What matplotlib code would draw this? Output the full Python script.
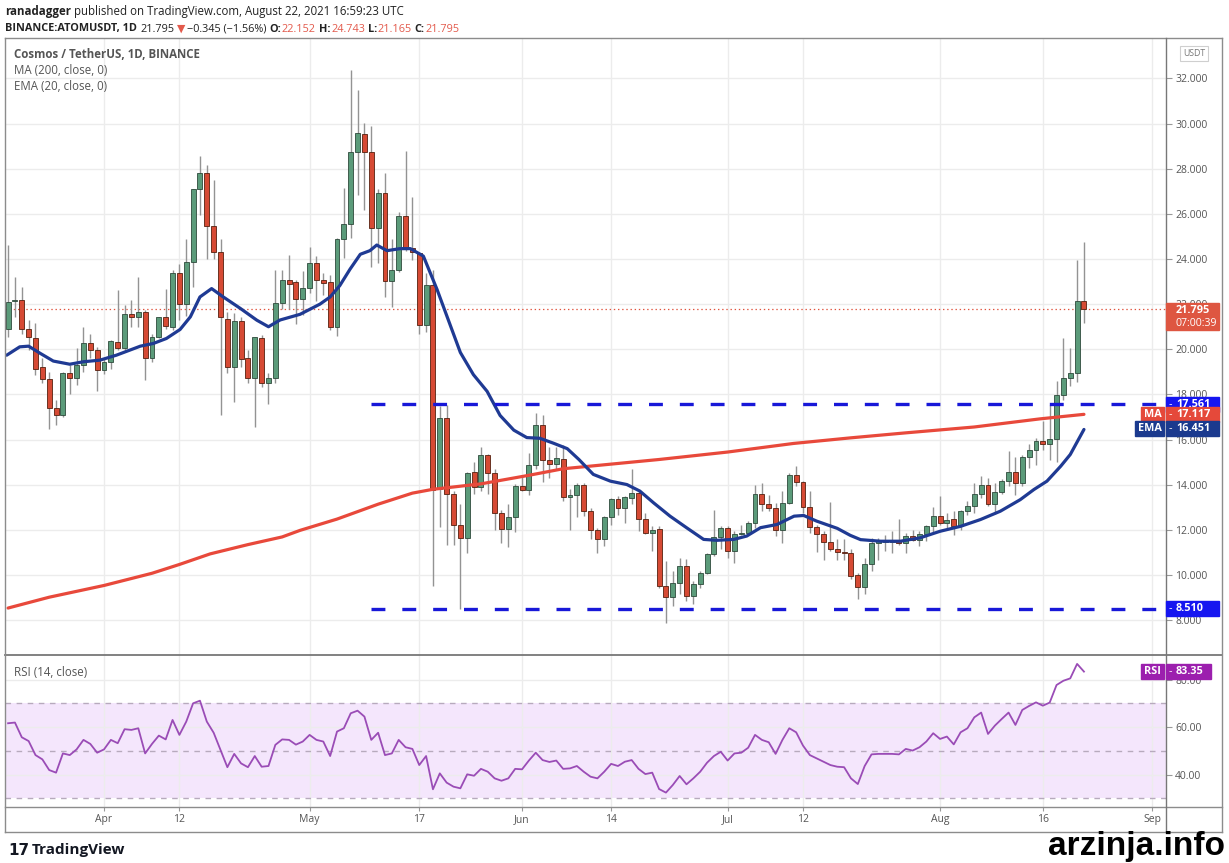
import numpy as np
import matplotlib
matplotlib.use("Agg")
import matplotlib.pyplot as plt
from matplotlib.lines import Line2D
from matplotlib.patches import Rectangle

W, H = 1229, 863
FONT = ["Open Sans", "DejaVu Sans"]
plt.rcParams["font.family"] = FONT
plt.rcParams["lines.scale_dashes"] = False

# day numbers count from Apr 1 2021 (= 0); first candle is Mar 18
first_day = -14

opens = [
    20.92, 22.13, 22.20, 20.92, 20.52, 19.20, 18.70, 17.42, 17.08, 18.93,
    18.71, 19.30, 20.29, 19.96, 19.08, 19.45, 20.33, 20.04, 21.56, 21.44,
    21.66, 19.60, 20.55, 21.41, 21.00, 23.36, 21.99, 23.85, 27.09, 27.83,
    25.45, 24.32, 21.36, 19.23, 21.26, 19.60, 18.75, 20.52, 18.49, 18.71,
    22.07, 23.09, 22.99, 22.25, 22.73, 23.83, 23.09, 23.00, 20.98, 24.87,
    25.55, 28.72, 29.54, 28.72, 25.36, 26.92, 23.01, 23.50, 25.90, 24.50,
    24.26, 21.06, 22.86, 13.80, 16.94, 13.60, 12.24, 11.63, 14.56, 13.90,
    15.30, 14.53, 12.73, 12.02, 12.56, 13.96, 13.75, 14.86, 16.66, 15.11,
    14.90, 15.15, 13.47, 13.55, 14.01, 12.86, 11.99, 11.62, 12.58, 13.39,
    12.98, 13.42, 13.65, 12.50, 11.87, 12.02, 9.51, 9.04, 9.66, 10.40,
    9.07, 9.59, 10.10, 10.92, 11.70, 12.07, 11.06, 11.83, 11.86, 12.32,
    13.57, 13.17, 12.98, 11.99, 13.20, 14.43, 14.12, 13.03, 12.14, 11.80,
    11.48, 11.17, 11.03, 10.99, 10.02, 9.46, 10.51, 11.42, 11.45, 11.48,
    11.50, 11.40, 11.75, 11.57, 11.84, 12.19, 12.63, 12.31, 12.49, 12.16,
    12.83, 13.08, 13.61, 14.01, 13.17, 13.67, 14.16, 14.55, 14.08, 15.23,
    15.56, 15.93, 15.82, 16.03, 17.99, 18.73, 18.95, 22.152,
]
highs = [
    24.61, 23.21, 22.77, 21.29, 21.17, 19.60, 19.00, 17.75, 19.00, 19.30,
    20.04, 21.00, 20.70, 20.10, 19.60, 20.40, 22.62, 21.96, 22.20, 23.20,
    21.76, 20.70, 21.44, 22.65, 23.50, 23.80, 24.90, 27.12, 28.55, 28.15,
    27.50, 24.90, 21.66, 21.59, 21.44, 19.96, 20.55, 20.63, 18.93, 23.50,
    23.50, 24.17, 23.06, 23.47, 24.54, 24.13, 23.39, 23.30, 24.95, 27.16,
    32.36, 31.48, 30.03, 29.90, 27.08, 27.82, 24.87, 26.10, 28.80, 26.75,
    24.29, 23.40, 23.50, 17.48, 17.54, 13.71, 13.14, 14.56, 15.00, 15.66,
    15.35, 14.70, 12.90, 13.14, 14.04, 14.45, 15.39, 17.20, 17.10, 15.68,
    15.68, 15.76, 13.80, 14.09, 14.09, 12.98, 12.10, 12.61, 13.42, 13.50,
    13.50, 14.70, 13.72, 12.76, 12.17, 12.17, 10.62, 10.18, 10.77, 10.72,
    9.73, 10.18, 10.99, 12.90, 12.17, 12.17, 11.95, 12.24, 12.39, 14.01,
    14.06, 13.53, 13.20, 13.72, 14.53, 14.83, 14.16, 13.72, 12.24, 11.95,
    13.23, 11.58, 11.58, 11.14, 10.10, 10.76, 11.65, 11.65, 11.79, 11.94,
    12.49, 11.87, 12.01, 11.94, 12.24, 13.02, 13.49, 12.75, 12.83, 12.90,
    13.27, 14.08, 14.38, 14.30, 14.08, 14.26, 15.48, 15.23, 15.34, 15.82,
    16.07, 16.81, 17.55, 18.58, 20.50, 20.06, 23.97, 24.743,
]
lows = [
    20.55, 21.44, 20.70, 19.96, 18.86, 18.50, 16.45, 16.64, 17.00, 18.00,
    18.41, 19.00, 19.60, 18.16, 18.90, 19.15, 19.96, 19.96, 21.00, 21.00,
    18.63, 19.45, 20.52, 20.92, 20.85, 21.30, 21.47, 22.77, 25.94, 24.02,
    24.02, 17.08, 18.93, 17.67, 19.23, 18.49, 16.57, 18.34, 17.60, 18.52,
    21.80, 21.80, 21.14, 21.50, 22.49, 22.16, 22.40, 20.85, 20.60, 24.05,
    24.95, 26.83, 26.18, 23.64, 23.83, 22.32, 21.86, 23.44, 24.37, 23.96,
    20.69, 20.77, 9.53, 12.12, 11.34, 11.34, 8.50, 11.00, 13.60, 13.71,
    13.60, 11.99, 11.42, 11.26, 11.90, 13.72, 13.55, 14.70, 14.12, 14.29,
    14.68, 13.30, 11.99, 12.57, 12.61, 11.58, 10.96, 11.28, 12.24, 12.64,
    12.32, 13.13, 11.95, 11.80, 11.06, 9.44, 7.89, 8.63, 9.14, 8.85,
    8.70, 9.44, 10.03, 10.84, 11.14, 10.77, 10.55, 11.77, 11.76, 12.10,
    12.83, 12.83, 11.73, 11.43, 13.13, 13.94, 12.76, 11.85, 11.02, 10.69,
    11.06, 10.69, 10.69, 9.81, 8.94, 9.14, 10.17, 10.69, 11.06, 10.98,
    11.35, 11.00, 11.50, 11.30, 11.50, 11.90, 12.24, 12.09, 11.79, 12.01,
    12.68, 12.75, 13.42, 13.05, 12.72, 13.61, 13.93, 13.56, 13.93, 14.75,
    14.89, 15.56, 15.08, 15.00, 17.77, 18.39, 18.54, 21.165,
]
closes = [
    22.10, 22.20, 20.92, 20.55, 19.15, 18.70, 17.42, 17.08, 18.97, 18.71,
    19.30, 20.29, 19.96, 19.08, 19.45, 20.36, 20.04, 21.56, 21.44, 21.66,
    19.60, 20.55, 21.41, 21.04, 23.36, 21.99, 23.85, 27.09, 27.79, 25.45,
    24.32, 21.41, 19.23, 21.26, 19.55, 18.75, 20.55, 18.49, 18.71, 22.07,
    23.06, 22.90, 22.25, 22.73, 23.83, 23.09, 22.93, 20.98, 24.87, 25.55,
    28.72, 29.59, 28.72, 25.36, 26.92, 23.01, 23.50, 25.90, 24.50, 24.29,
    21.06, 22.86, 13.76, 16.94, 13.60, 12.24, 11.63, 14.53, 13.90, 15.30,
    14.53, 12.73, 12.02, 12.56, 13.96, 13.75, 14.86, 16.66, 15.11, 14.90,
    15.20, 13.47, 13.55, 13.97, 12.86, 11.99, 11.62, 12.58, 13.35, 12.98,
    13.47, 13.65, 12.50, 11.85, 11.99, 9.51, 9.04, 9.66, 10.40, 9.07,
    9.59, 10.10, 10.92, 11.70, 12.07, 11.06, 11.83, 11.86, 12.32, 13.57,
    13.17, 12.98, 11.99, 13.20, 14.43, 14.12, 13.03, 12.14, 11.80, 11.48,
    11.17, 11.02, 10.99, 9.98, 9.46, 10.51, 11.42, 11.50, 11.50, 11.50,
    11.40, 11.75, 11.57, 11.84, 12.19, 12.63, 12.31, 12.43, 12.16, 12.83,
    13.08, 13.61, 14.01, 13.17, 13.67, 14.16, 14.55, 14.08, 15.23, 15.56,
    15.93, 15.82, 16.03, 17.99, 18.73, 18.95, 22.15, 21.795,
]

# MA(200) at a few days
ma_days = [-14, -8, 0, 7, 11, 15.5, 21, 26, 28.6, 34, 40, 45, 48, 55, 62,
           67, 81, 91, 100.6, 109, 117, 127, 136.6, 143]
ma_vals = [8.54, 9.02, 9.54, 10.08, 10.47, 10.94, 11.35, 11.69, 11.98, 12.48,
           13.14, 13.63, 13.80, 14.04, 14.42, 14.71, 15.12, 15.45, 15.83,
           16.08, 16.30, 16.56, 16.92, 17.12]

# EMA(20)
ema_days = [-14.2, -12.3, -11, -9.3, -7.4, -5, -3, -0.6, 1.8, 5.3, 7.2, 9.1,
            11.1, 12.6, 14, 15.7, 17.4, 19.9, 22.3, 24, 25.7, 28.6, 31.5, 33,
            34.4, 35.9, 37.4, 38.8, 39.8, 41.3, 43.2, 44.7, 46.6, 48.6, 50,
            52, 53.9, 55.9, 57.8, 59.8, 61.7, 63.6, 65.6, 67.6, 69.3, 71.4,
            73.9, 76.3, 78.2, 80.2, 82.6, 85, 87.5, 89.4, 91.9, 93.8, 95.8,
            98.2, 100.7, 102.1, 104, 107, 108.9, 110.4, 113.3, 116.2, 119.1,
            122, 125, 127.9, 130.8, 133.7, 135.7, 137.6, 139.6, 141, 143]
ema_vals = [19.74, 20.11, 20.14, 19.82, 19.48, 19.34, 19.45, 19.52, 19.74,
            20.14, 20.26, 20.48, 20.88, 21.44, 22.32, 22.69, 22.32, 21.81,
            21.29, 21.00, 21.30, 21.55, 22.00, 22.32, 22.82, 23.55, 24.21,
            24.37, 24.62, 24.37, 24.46, 24.46, 24.13, 22.65, 21.50, 19.86,
            18.88, 18.14, 17.07, 16.42, 16.09, 16.06, 15.84, 15.60, 15.12,
            14.46, 14.16, 14.01, 13.72, 13.20, 12.61, 12.10, 11.58, 11.54,
            11.58, 11.73, 12.10, 12.24, 12.61, 12.64, 12.39, 12.07, 11.76,
            11.57, 11.50, 11.50, 11.65, 11.94, 12.16, 12.46, 12.83, 13.34,
            13.79, 14.16, 14.82, 15.34, 16.45]

# RSI(14), one value per candle
rsi_vals = [
    61.6, 61.9, 55.7, 54.1, 48.2, 46.4, 41.9, 40.8, 48.9, 48.2,
    50.6, 54.6, 52.9, 49.2, 50.6, 54.6, 53.2, 59.1, 58.8, 59.5,
    48.9, 52.9, 56.4, 54.8, 63.0, 56.7, 62.3, 70.0, 71.1, 62.3,
    57.6, 50.4, 43.1, 48.7, 44.7, 43.1, 47.8, 43.3, 43.6, 52.5,
    54.8, 54.6, 52.6, 53.9, 56.7, 54.6, 53.9, 47.8, 58.1, 59.5,
    65.8, 66.9, 64.4, 54.6, 57.6, 48.2, 48.9, 54.6, 51.5, 50.8,
    44.0, 47.8, 33.8, 40.5, 36.6, 34.9, 34.2, 40.1, 39.5, 42.4,
    41.2, 38.4, 37.4, 38.4, 42.4, 42.2, 45.9, 49.2,
    46.1, 45.3, 45.9, 42.4, 42.6, 43.6, 41.2, 39.1, 38.4, 41.2,
    44.5, 43.6, 45.4, 46.1, 42.4, 40.2, 40.8, 33.9, 32.4, 35.6,
    39.4, 35.9, 38.4, 41.2, 45.0, 47.8, 49.6, 45.9, 48.9, 49.2,
    51.3, 56.7, 54.6, 53.6, 48.7, 54.6, 59.5, 57.8, 52.2, 48.2,
    46.8, 45.4, 44.0, 43.3, 43.1, 38.4, 36.0, 43.6, 48.5, 48.7,
    48.7, 48.7, 48.5, 50.8, 50.1, 51.5, 53.9, 57.4, 55.0, 56.0,
    52.7, 57.8, 59.5, 64.1, 66.1, 57.1, 60.6, 63.4, 66.1, 60.9,
    67.2, 68.9, 70.4, 69.0, 70.3, 77.7, 79.5, 80.5, 86.6, 83.35,
]

support = 8.510
resistance = 17.561
level_start = 39
last_price = 21.795
ma_last = 17.117
ema_last = 16.451

tick_days = [0, 11, 30, 46, 61, 74, 91, 102, 122, 137, 153]
tick_labels = ["Apr", "12", "May", "17", "Jun", "14", "Jul", "12", "Aug", "16", "Sep"]

UP, DOWN = "#5b9b7a", "#d64a34"
GRID = "#ececec"
FRAME = "#8c8c8c"
TXT = "#555555"


def fx(px):
    return px / W


def fy(py):
    return 1 - py / H


fig = plt.figure(figsize=(W / 100, H / 100), dpi=100)
fig.patch.set_facecolor("white")

ax = fig.add_axes([fx(5), fy(655), fx(1165.5) - fx(5), fy(38) - fy(655)])
ax_rsi = fig.add_axes([fx(5), fy(807), fx(1165.5) - fx(5), fy(655) - fy(807)], sharex=ax)

days = np.arange(first_day, first_day + len(closes))
o, h, l, c = map(np.array, (opens, highs, lows, closes))
up = c >= o

# candles
ax.vlines(days, l, h, color="#939393", lw=1, zorder=2)
bottom = np.minimum(o, c)
height = np.maximum(np.abs(c - o), 0.05)
ax.bar(days[up], height[up], bottom=bottom[up], width=0.72, color=UP,
       edgecolor="#2e4a3b", linewidth=0.6, zorder=3)
ax.bar(days[~up], height[~up], bottom=bottom[~up], width=0.72, color=DOWN,
       edgecolor="#55200f", linewidth=0.6, zorder=3)

ax.plot(ma_days, ma_vals, color="#e8493b", lw=2.3, zorder=4, solid_capstyle="round")
ax.plot(ema_days, ema_vals, color="#1f3a93", lw=2.3, zorder=4, solid_capstyle="round")

for lvl in (support, resistance):
    ax.plot([level_start, 160], [lvl, lvl], color="#1818d8", lw=2.4,
            dashes=(10, 12.2), zorder=5)
ax.axhline(last_price, color="#e0533e", lw=0.9, ls=(0, (1, 2)), zorder=1)

ax.set_xlim(-14.45, 154.9)
ax.set_ylim(6.46, 33.79)
ax.set_yticks(np.arange(8, 33, 2))
ax.set_yticklabels([f"{v:.3f}" for v in np.arange(8, 33, 2)])
ax.yaxis.tick_right()
ax.tick_params(axis="y", length=4, color="#999", labelcolor=TXT, labelsize=7.5, pad=3)
ax.tick_params(axis="x", bottom=False, labelbottom=False)
ax.set_xticks(tick_days)
ax.grid(color=GRID, lw=1, zorder=0)
ax.set_axisbelow(True)
for s in ax.spines.values():
    s.set_visible(False)

# RSI pane
ax_rsi.axhspan(30, 70, color="#f4e6fc", zorder=0, lw=0)
for lvl in (30, 50, 70):
    ax_rsi.axhline(lvl, color="#b7aabd", lw=1, dashes=(4, 4), zorder=1)
ax_rsi.plot(days, rsi_vals, color="#9a4cb6", lw=1.3, zorder=3)
ax_rsi.set_ylim(26.34, 90.34)
ax_rsi.set_yticks([40, 60, 80])
ax_rsi.set_yticklabels(["40.00", "60.00", "80.00"])
ax_rsi.yaxis.tick_right()
ax_rsi.tick_params(axis="y", length=4, color="#999", labelcolor=TXT, labelsize=7.5, pad=3)
ax_rsi.set_xticks(tick_days)
ax_rsi.set_xticklabels(tick_labels)
ax_rsi.tick_params(axis="x", length=3, color="#999", labelcolor=TXT, labelsize=7.5, pad=2)
ax_rsi.grid(color=GRID, lw=1, zorder=0)
ax_rsi.set_axisbelow(True)
for s in ax_rsi.spines.values():
    s.set_visible(False)

# frame lines
def hline(y, x0=5, x1=1222, color=FRAME, lw=1.0):
    fig.add_artist(Line2D([fx(x0), fx(x1)], [fy(y), fy(y)], color=color, lw=lw))


def vline(x, y0=38, y1=832, color=FRAME, lw=1.0):
    fig.add_artist(Line2D([fx(x), fx(x)], [fy(y0), fy(y1)], color=color, lw=lw))


hline(38)
hline(832)
hline(655, color="#777", lw=1.3)
hline(807)
vline(5)
vline(1222)
vline(1165.5, color="#777")


def fig_y(axis, v):
    disp = axis.transData.transform((0, v))
    return fig.transFigure.inverted().transform(disp)[1]


def tag(yc, text, color, x0=1166, x1=1219, hh=15, fs=7.8, dy=0):
    yc = yc - dy / H
    fig.patches.append(Rectangle((fx(x0), yc - hh / 2 / H), (x1 - x0) / W, hh / H,
                                 transform=fig.transFigure, color=color, zorder=5))
    fig.text(fx(x0 + 3), yc, "-", color="white", fontsize=fs, va="center", zorder=6)
    fig.text(fx(x0 + 10), yc, text, color="white", fontsize=fs, fontweight="bold",
             va="center", ha="left", zorder=6)


def side_tag(yc, text, color, x0, x1=1164, hh=15, fs=7.8, dy=0):
    yc = yc - dy / H
    fig.patches.append(Rectangle((fx(x0), yc - hh / 2 / H), (x1 - x0) / W, hh / H,
                                 transform=fig.transFigure, color=color, zorder=5))
    fig.text(fx((x0 + x1) / 2), yc, text, color="white", fontsize=fs, fontweight="bold",
             va="center", ha="center", zorder=6)


# last price tag (two lines)
yp = fig_y(ax, last_price)
fig.patches.append(Rectangle((fx(1166), yp - 21 / H), 53 / W, 27 / H,
                             transform=fig.transFigure, color="#de5641", zorder=5))
fig.text(fx(1176), yp - 2 / H, "21.795", color="white", fontsize=7.8, fontweight="bold",
         va="center", zorder=6)
fig.text(fx(1176), yp - 15 / H, "07:00:39", color="white", fontsize=7.6,
         va="center", zorder=6)

tag(fig_y(ax, resistance), f"{resistance:.3f}", "#1616f0")
y_ma = fig_y(ax, ma_last)
tag(y_ma, f"{ma_last:.3f}", "#e5493a")
side_tag(y_ma, "MA", "#e5493a", 1141)
tag(y_ma, f"{ema_last:.3f}", "#1b3a8e", dy=14)
side_tag(y_ma, "EMA", "#1b3a8e", 1135, dy=14)
tag(fig_y(ax, support), f"{support:.3f}", "#1616f0")

y_rsi = fig_y(ax_rsi, rsi_vals[-1])
tag(y_rsi, f"{rsi_vals[-1]:.2f}", "#9c1fae", x1=1211)
side_tag(y_rsi, "RSI", "#9c1fae", 1141)

# USDT box
fig.patches.append(Rectangle((fx(1180), fy(61)), 28 / W, 15 / H, transform=fig.transFigure,
                             fc="white", ec="#cfcfcf", lw=0.8, zorder=5))
fig.text(fx(1194), fy(53.5), "USDT", color="#777", fontsize=6.3, ha="center", va="center", zorder=6)

# legend texts inside the panes
fig.text(fx(14), fy(54), "Cosmos / TetherUS, 1D, BINANCE", color=TXT, fontsize=8.3,
         fontweight="bold", va="center")
fig.text(fx(14), fy(71), "MA (200, close, 0)", color=TXT, fontsize=8.3, va="center")
fig.text(fx(14), fy(87), "EMA (20, close, 0)", color=TXT, fontsize=8.3, va="center")
fig.text(fx(14), fy(672), "RSI (14, close)", color=TXT, fontsize=8.3, va="center")

# header lines built from pieces
renderer = fig.canvas.get_renderer()


def run(x_px, y_px, pieces, fs=8.4):
    x = fx(x_px)
    for s, color, weight, gap in pieces:
        t = fig.text(x, fy(y_px), s, color=color, fontsize=fs, fontweight=weight,
                     va="center", ha="left")
        x += t.get_window_extent(renderer).width / W + gap / W


DARK = "#222222"
RED = "#e35a4c"
run(5, 12, [("ranadagger", DARK, "bold", 3.5),
            ("published on TradingView.com, August 22, 2021 16:59:23 UTC", DARK, "normal", 0)],
    fs=8.3)
run(5, 29, [("BINANCE:ATOMUSDT, 1D", DARK, "bold", 4),
            ("21.795", DARK, "normal", 2),
            ("▼", RED, "normal", 2),
            ("\u22120.345 (\u22121.56%)", DARK, "normal", 3),
            ("O:", DARK, "bold", 0.5), ("22.152", RED, "normal", 3),
            ("H:", DARK, "bold", 0.5), ("24.743", RED, "normal", 3),
            ("L:", DARK, "bold", 0.5), ("21.165", RED, "normal", 3),
            ("C:", DARK, "bold", 0.5), ("21.795", RED, "normal", 0)],
    fs=7.8)

# footer
fig.text(fx(8), fy(850), "17", color="#131722", fontsize=11, fontweight="heavy",
         va="center", family=["DejaVu Sans"])
fig.text(fx(32), fy(850), "TradingView", color="#131722", fontsize=11, fontweight="bold",
         va="center")
fig.text(fx(1225), fy(855), "arzinja.info", color="black", fontsize=24, fontweight="bold",
         ha="right", va="baseline", family=["Liberation Sans", "DejaVu Sans"])

fig.savefig("out.png", dpi=100)
